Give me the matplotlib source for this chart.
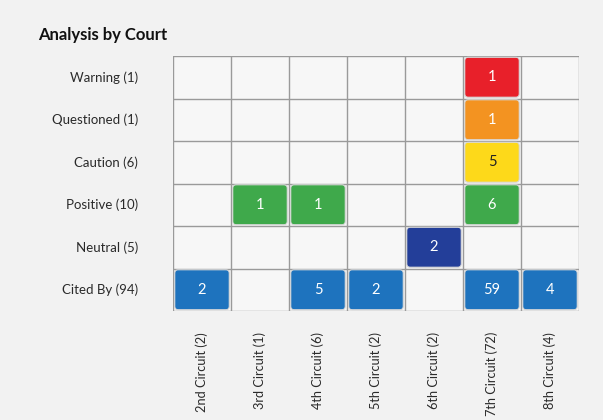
import matplotlib
matplotlib.use("Agg")
import matplotlib.pyplot as plt
from matplotlib.patches import FancyBboxPatch
import numpy as np

plt.rcParams['font.family'] = ['Lato', 'DejaVu Sans']

row_labels = ["Warning (1)", "Questioned (1)", "Caution (6)", "Positive (10)", "Neutral (5)", "Cited By (94)"]
col_labels = ["2nd Circuit (2)", "3rd Circuit (1)", "4th Circuit (6)", "5th Circuit (2)",
              "6th Circuit (2)", "7th Circuit (72)", "8th Circuit (4)"]
warning = [0, 0, 0, 0, 0, 1, 0]
questioned = [0, 0, 0, 0, 0, 1, 0]
caution = [0, 0, 0, 0, 0, 5, 0]
positive = [0, 1, 1, 0, 0, 6, 0]
neutral = [0, 0, 0, 0, 2, 0, 0]
cited_by = [2, 0, 5, 2, 0, 59, 4]
row_colors = ["#E8202A", "#F39321", "#FDD91A", "#3FA94B", "#233E99", "#1E73BE"]
text_colors = ["white", "white", "#222222", "white", "white", "white"]

values = [warning, questioned, caution, positive, neutral, cited_by]

W, H = 603, 420
fig = plt.figure(figsize=(W / 100, H / 100), dpi=100)
fig.patch.set_facecolor("#F2F2F2")

ax = fig.add_axes([173 / W, 1 - 311 / H, (579 - 173) / W, (311 - 56) / H])
ax.set_facecolor("#F7F7F7")
nrows, ncols = len(row_labels), len(col_labels)
ax.set_xlim(0, ncols)
ax.set_ylim(nrows, 0)

for x in range(ncols + 1):
    ax.axvline(x, color="#9A9A9A", lw=1.0, zorder=1)
for y in range(nrows + 1):
    ax.axhline(y, color="#9A9A9A", lw=1.0, zorder=1)

pad = 0.03
for r, row in enumerate(values):
    for c, v in enumerate(row):
        if v:
            box = FancyBboxPatch((c + pad, r + pad), 1 - 2 * pad, 1 - 2 * pad,
                                 boxstyle="round,pad=0,rounding_size=0.06",
                                 facecolor=row_colors[r], edgecolor="#D8D8D8",
                                 lw=0.8, zorder=3, mutation_aspect=1.4)
            ax.add_patch(box)
            ax.text(c + 0.5, r + 0.5, str(v), ha="center", va="center",
                    color=text_colors[r], fontsize=10.5, zorder=4)

ax.set_xticks([])
ax.set_yticks([])
for s in ax.spines.values():
    s.set_visible(False)

# row labels
for r, lab in enumerate(row_labels):
    ax.text(-35 / 58, r + 0.5, lab, ha="right", va="center", fontsize=9.5, color="#2A2A2A")

# column labels
for c, lab in enumerate(col_labels):
    ax.text(c + 0.5, nrows + 21 / 42.5, lab, ha="center", va="top", rotation=90,
            fontsize=9.2, color="#2A2A2A")

fig.text(38 / W, 1 - 35 / H, "Analysis by Court", fontsize=12, fontweight="bold",
         ha="left", va="center", color="#111111")

fig.savefig("out.png", dpi=100, facecolor=fig.get_facecolor())
